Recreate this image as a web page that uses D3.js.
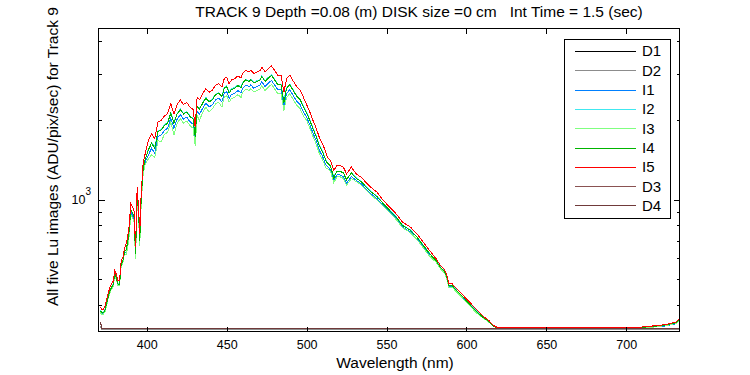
<!DOCTYPE html>
<html>
<head>
<meta charset="utf-8">
<script src="https://cdn.jsdelivr.net/npm/d3@7"></script>
<style>
body { margin:0; background:#fff; }
text { font-family: "Liberation Sans", Arial, sans-serif; fill:#000; }
</style>
</head>
<body>
<div id="chart"></div>
<script>
// wavelengths (nm) of the five Lu spectra
var wave = [371,372,373,374,375,376,377,378,379,380,381,382,383,384,385,386,
  387,388,389,390,391,392,393,394,395,395.6,396.5,397.7,399,
  401,403,405,407,409,411,413,415,417,419,421,423,425,427,429,430.3,431.5,433,435,437,439,
  441,443,445,447,448.5,450,451.5,453,455,457,459,460,462,464,465,467,469,471,472,474,476,478,
  480,482,484,485.8,487.5,489.5,492,494,496,498,
  500,502,504,506,508,510,512,513,515,517,519,521,523,525,528,531,534,537,540,544,
  548,552,556,560,565,569,573,577,581,584,586,587.5,589,591,594,598,602,606,
  610,614,617,620,650,680,708,711,718,725,731,733];

var luI5 = [391,382,385,396,420,445,465,480,490,539,520,493,493,588,600,650,
  680,720,800,966,940,911,661,1117,900,744,1056,1370,1496,
  1681,1782,1706,1973,2002,2080,2123,2317,2123,2300,2390,2300,2340,2250,2200,1888,2455,2400,2530,2642,2560,
  2604,2720,2760,2680,2885,2925,2760,2850,2885,2950,2900,3015,3102,3050,3102,3015,3060,3100,3192,3060,3150,3222,
  3102,2970,2970,2565,2885,2970,2800,2680,2604,2450,
  2300,2153,2000,1870,1720,1632,1517,1452,1411,1292,1350,1350,1330,1255,1330,1255,1219,1167,1117,1069,
  994,937,884,822,787,742,690,641,597,560,546,523,480,480,459,433,408,385,
  363,348,333,326,326,326,326,330,332,336,343,353];

var luI2 = [381,372,375,386,409,434,453,468,478,526,507,481,481,573,585,634,
  646,684,760,918,893,865,628,1061,855,707,1003,1302,1421,
  1555,1648,1590,1825,1852,1924,1964,2143,1964,2128,2211,2128,2165,2081,2035,1746,2271,2220,2340,2444,2368,
  2409,2516,2553,2479,2669,2706,2553,2636,2669,2729,2683,2789,2869,2821,2869,2789,2831,2868,2953,2831,2914,2980,
  2869,2747,2747,2373,2669,2747,2590,2479,2409,2266,
  2151,2013,1870,1748,1608,1526,1418,1379,1340,1227,1283,1283,1264,1192,1264,1211,1176,1126,1078,1032,
  969,914,862,801,767,723,673,625,588,552,538,515,473,473,452,427,402,379,
  360,346,332,325,325,325,325,327,330,334,340,350];

var luI4 = [379,371,373,384,407,432,451,466,475,523,504,478,478,570,582,631,
  646,684,760,918,893,865,622,1061,855,700,1003,1302,1421,
  1547,1639,1570,1815,1842,1914,1953,2132,1953,2116,2199,2116,2153,2070,2024,1737,2259,2208,2328,2431,2355,
  2396,2502,2539,2466,2654,2691,2539,2622,2654,2714,2668,2774,2854,2806,2854,2774,2815,2852,2937,2815,2898,2964,
  2854,2732,2732,2330,2654,2732,2576,2466,2396,2254,
  2139,2002,1860,1739,1600,1518,1411,1379,1340,1210,1283,1283,1264,1192,1264,1207,1173,1123,1075,1028,
  966,911,859,799,765,721,671,623,587,550,537,514,472,472,451,426,401,378,
  359,345,331,325,325,325,325,328,331,335,341,348];

var luI1 = [377,369,372,382,405,429,449,463,473,520,502,476,476,567,579,627,
  632,670,744,898,874,847,615,1039,837,692,982,1274,1391,
  1479,1568,1501,1736,1762,1830,1868,2039,1868,2024,2103,2024,2059,1980,1936,1661,2160,2112,2226,2325,2253,
  2292,2394,2429,2358,2539,2574,2429,2508,2539,2596,2552,2653,2730,2684,2730,2653,2693,2728,2809,2693,2772,2835,
  2730,2614,2614,2257,2539,2614,2464,2358,2292,2156,
  2059,1927,1790,1674,1539,1461,1358,1336,1298,1189,1242,1242,1224,1155,1224,1186,1152,1103,1056,1010,
  952,898,847,787,754,711,661,614,582,546,532,510,468,468,448,422,398,375,
  358,344,330,325,325,325,325,326,329,332,338,352];

var luI3 = [373,365,368,378,401,425,444,458,468,515,497,471,471,562,573,621,
  619,655,728,879,855,829,595,1016,819,670,961,1247,1361,
  1429,1480,1450,1677,1660,1768,1805,1969,1760,1955,2032,1955,1989,1913,1870,1605,2087,2000,2151,2246,2150,
  2213,2312,2346,2250,2452,2486,2346,2423,2452,2508,2440,2563,2637,2593,2637,2563,2601,2635,2713,2601,2678,2739,
  2637,2525,2525,2180,2452,2525,2380,2278,2213,2083,
  2001,1873,1740,1627,1496,1420,1320,1314,1277,1160,1222,1222,1204,1136,1204,1173,1140,1091,1044,1000,
  946,892,842,783,749,706,657,610,579,543,530,507,466,466,445,420,396,373,
  357,343,330,325,325,325,325,326,329,333,339,345];

// dark readings
var darkWave = [371,372,400,450,500,550,600,650,700,733];
var luD1 = [332,322,322,322,322,322,322,322,322,323];
var luD2 = [331,321,322,321,322,321,322,321,322,322];
var luD3 = [344,323,323,323,323,323,323,323,323,323];
var luD4 = [343,323,323,323,323,323,323,323,323,323];

var seriesNames = ["D1","D2","I1","I2","I3","I4","I5","D3","D4"];
var seriesColors = ["#000000","#8c8c8c","#0080ff","#40e8f0","#80ff80","#00b400","#ff0000","#8a5252","#703a3a"];

var xTicks = [400,450,500,550,600,650,700];
var yMinor = [400,500,600,700,800,900,2000,3000,4000];

var width = 750, height = 375;
var plot = {left:98.5, right:679.5, top:28.5, bottom:331.5};

var svg = d3.select("#chart").append("svg")
  .attr("width", width)
  .attr("height", height);

var x = d3.scaleLinear().domain([369.8, 733.3]).range([plot.left, plot.right]);
var y = d3.scaleLog().domain([316, 4470]).range([plot.bottom, plot.top]);

// pairs for each series, in drawing order
var series = [
  {w: darkWave, v: luD1}, {w: darkWave, v: luD2},
  {w: wave, v: luI1}, {w: wave, v: luI2}, {w: wave, v: luI3},
  {w: wave, v: luI4}, {w: wave, v: luI5},
  {w: darkWave, v: luD3}, {w: darkWave, v: luD4}
];

var line = d3.line()
  .x(function(d) { return x(d[0]); })
  .y(function(d) { return y(d[1]); });

svg.append("defs").append("clipPath").attr("id","clip")
  .append("rect")
  .attr("x", plot.left).attr("y", plot.top)
  .attr("width", plot.right - plot.left).attr("height", plot.bottom - plot.top);

svg.append("g").attr("clip-path","url(#clip)")
  .selectAll("path")
  .data(series)
  .enter().append("path")
  .attr("d", function(s) { return line(s.w.map(function(w,i) { return [w, s.v[i]]; })); })
  .attr("fill","none")
  .attr("stroke", function(s,i) { return seriesColors[i]; })
  .attr("stroke-width", 1)
  .attr("shape-rendering","crispEdges");

// axes box
svg.append("rect")
  .attr("x", plot.left).attr("y", plot.top)
  .attr("width", plot.right - plot.left).attr("height", plot.bottom - plot.top)
  .attr("fill","none").attr("stroke","#000").attr("stroke-width",1)
  .attr("shape-rendering","crispEdges");

// x ticks, bottom and top, pointing in
var xAxisB = d3.axisBottom(x).tickValues(xTicks).tickSize(-5).tickPadding(9).tickFormat(d3.format("d"));
var gxb = svg.append("g").attr("transform","translate(0," + plot.bottom + ")").call(xAxisB);
var gxt = svg.append("g").attr("transform","translate(0," + plot.top + ")")
  .call(d3.axisTop(x).tickValues(xTicks).tickSize(-5).tickFormat(""));

// y ticks, left and right
var gyl = svg.append("g").attr("transform","translate(" + plot.left + ",0)")
  .call(d3.axisLeft(y).tickValues([1000]).tickSize(-6).tickFormat(""));
var gyr = svg.append("g").attr("transform","translate(" + plot.right + ",0)")
  .call(d3.axisRight(y).tickValues([1000]).tickSize(-6).tickFormat(""));
svg.append("g").attr("transform","translate(" + plot.left + ",0)")
  .call(d3.axisLeft(y).tickValues(yMinor).tickSize(-3).tickFormat(""));
svg.append("g").attr("transform","translate(" + plot.right + ",0)")
  .call(d3.axisRight(y).tickValues(yMinor).tickSize(-3).tickFormat(""));

svg.selectAll(".domain").remove();
svg.selectAll(".tick line").attr("stroke","#000").attr("shape-rendering","crispEdges");
gxb.selectAll("text").style("font-size","12.5px").style("font-family","Liberation Sans, Arial, sans-serif").attr("fill","#000");

// 10^3 label
var lab = svg.append("text")
  .attr("x", 91).attr("y", y(1000) + 4)
  .attr("text-anchor","end")
  .style("font-size","12.5px");
lab.append("tspan").text("10");
lab.append("tspan").attr("dy",-9).style("font-size","10px").text("3");

// title and axis labels
svg.append("text")
  .attr("x", 419).attr("y", 17)
  .attr("text-anchor","middle")
  .style("font-size","15.5px")
  .style("white-space","pre")
  .text("TRACK 9 Depth =0.08 (m) DISK size =0 cm   Int Time = 1.5 (sec)");

svg.append("text")
  .attr("x", 395).attr("y", 368)
  .attr("text-anchor","middle")
  .style("font-size","15.5px")
  .text("Wavelength (nm)");

svg.append("text")
  .attr("transform","translate(58,306) rotate(-90)")
  .attr("text-anchor","start")
  .style("font-size","15.5px")
  .text("All five Lu images (ADU/pix/sec) for Track 9");

// legend
var legend = svg.append("g");
legend.append("rect")
  .attr("x", 564.5).attr("y", 39.5).attr("width", 106).attr("height", 179)
  .attr("fill","#fff").attr("stroke","#000").attr("shape-rendering","crispEdges");
var rows = legend.selectAll(".row").data(seriesNames).enter().append("g")
  .attr("transform", function(d,i) { return "translate(0," + (51 + i*19.3) + ")"; });
rows.append("line")
  .attr("x1", 575).attr("x2", 636).attr("y1", 0.5).attr("y2", 0.5)
  .attr("stroke", function(d,i) { return seriesColors[i]; })
  .attr("shape-rendering","crispEdges");
rows.append("text")
  .attr("x", 642).attr("y", 0).attr("dy","0.36em")
  .style("font-size","15px")
  .text(function(d) { return d; });
</script>
</body>
</html>
